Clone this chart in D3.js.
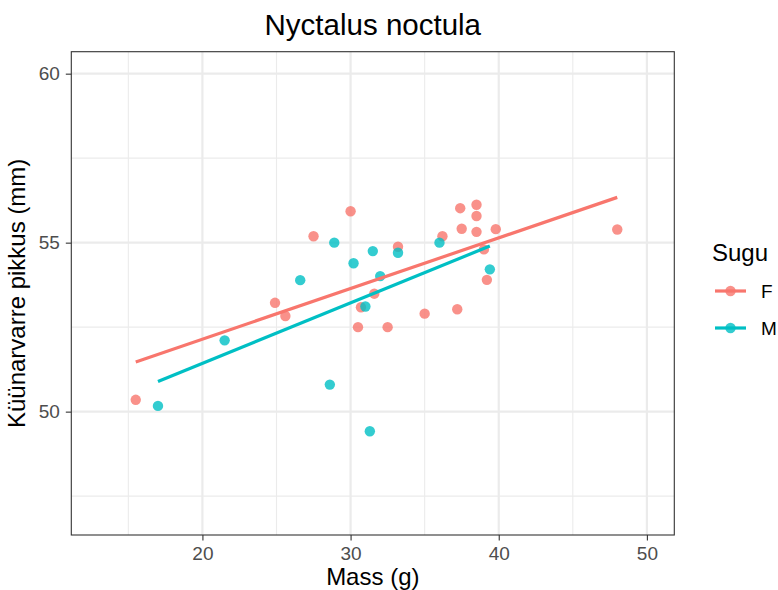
<!DOCTYPE html>
<html>
<head>
<meta charset="utf-8">
<script src="https://cdn.jsdelivr.net/npm/d3@7"></script>
<style>
  html, body { margin: 0; padding: 0; background: #fff; }
  text { font-family: "Liberation Sans", Arial, sans-serif; }
</style>
</head>
<body>
<svg id="chart" width="778" height="590"></svg>
<script>
// ---- data ----
const groups = ["F", "M"];
const colors = ["#F8766D", "#00BFC4"];

const massF = [15.5, 24.9, 25.6, 27.5, 30.0, 30.5, 30.7, 31.6, 32.5, 33.2, 35.0, 36.2, 37.2, 37.4, 37.5, 38.5, 38.5, 38.5, 39.0, 39.2, 39.8, 48.0];
const armF  = [50.35, 53.22, 52.83, 55.19, 55.93, 52.50, 53.09, 53.49, 52.50, 54.88, 52.90, 55.19, 53.03, 56.02, 55.41, 56.12, 55.79, 55.32, 54.80, 53.90, 55.40, 55.39];

const massM = [17.0, 21.5, 26.6, 28.6, 28.9, 30.2, 31.0, 31.3, 31.5, 32.0, 33.2, 36.0, 39.4];
const armM  = [50.17, 52.11, 53.89, 50.80, 55.00, 54.39, 53.11, 49.42, 54.75, 54.01, 54.70, 55.00, 54.21];

// fitted (lm) line ends
const fitMassF = [15.5, 48.0];
const fitArmF  = [51.47, 56.34];
const fitMassM = [17.0, 39.4];
const fitArmM  = [50.89, 54.90];

const xTicks = [20, 30, 40, 50];
const xMinor = [15, 25, 35, 45];
const yTicks = [50, 55, 60];
const yMinor = [47.5, 52.5, 57.5];

const titleText = "Nyctalus noctula";
const xTitle = "Mass (g)";
const yTitle = "Küünarvarre pikkus (mm)";
const legendTitle = "Sugu";

// ---- layout ----
const P = { left: 71.3, right: 674.3, top: 51.7, bottom: 535 };
const svg = d3.select("#chart");

const x = d3.scaleLinear().domain([11.15, 51.85]).range([P.left, P.right]);
const y = d3.scaleLinear().domain([46.35, 60.65]).range([P.bottom, P.top]);

// panel background
svg.append("rect").attr("x", P.left).attr("y", P.top)
  .attr("width", P.right - P.left).attr("height", P.bottom - P.top)
  .attr("fill", "#fff");

const grid = svg.append("g");
// minor gridlines
grid.selectAll(".xmin").data(xMinor).join("line")
  .attr("class", "xmin")
  .attr("x1", d => x(d)).attr("x2", d => x(d))
  .attr("y1", P.top).attr("y2", P.bottom)
  .attr("stroke", "#EBEBEB").attr("stroke-width", 1.1);
grid.selectAll(".ymin").data(yMinor).join("line")
  .attr("class", "ymin")
  .attr("y1", d => y(d)).attr("y2", d => y(d))
  .attr("x1", P.left).attr("x2", P.right)
  .attr("stroke", "#EBEBEB").attr("stroke-width", 1.1);
// major gridlines
grid.selectAll(".xmaj").data(xTicks).join("line")
  .attr("class", "xmaj")
  .attr("x1", d => x(d)).attr("x2", d => x(d))
  .attr("y1", P.top).attr("y2", P.bottom)
  .attr("stroke", "#EBEBEB").attr("stroke-width", 2.2);
grid.selectAll(".ymaj").data(yTicks).join("line")
  .attr("class", "ymaj")
  .attr("y1", d => y(d)).attr("y2", d => y(d))
  .attr("x1", P.left).attr("x2", P.right)
  .attr("stroke", "#EBEBEB").attr("stroke-width", 2.2);

// points
const ptsF = massF.map((m, i) => ({ x: m, y: armF[i], g: 0 }));
const ptsM = massM.map((m, i) => ({ x: m, y: armM[i], g: 1 }));
svg.append("g").selectAll("circle").data(ptsF.concat(ptsM)).join("circle")
  .attr("cx", d => x(d.x)).attr("cy", d => y(d.y)).attr("r", 5.2)
  .attr("fill", d => colors[d.g]).attr("fill-opacity", 0.8);

// fitted lines
const line = d3.line().x(d => x(d[0])).y(d => y(d[1]));
const fits = [
  fitMassF.map((m, i) => [m, fitArmF[i]]),
  fitMassM.map((m, i) => [m, fitArmM[i]])
];
svg.append("g").selectAll("path").data(fits).join("path")
  .attr("d", line).attr("fill", "none")
  .attr("stroke", (d, i) => colors[i]).attr("stroke-width", 3.2);

// panel border
svg.append("rect").attr("x", P.left).attr("y", P.top)
  .attr("width", P.right - P.left).attr("height", P.bottom - P.top)
  .attr("fill", "none").attr("stroke", "#333333").attr("stroke-width", 1.1);

// axes
const xAxis = d3.axisBottom(x).tickValues(xTicks).tickSize(5.5).tickPadding(6).tickFormat(d3.format("d"));
const gx = svg.append("g").attr("transform", `translate(0,${P.bottom})`).call(xAxis);
gx.select(".domain").remove();
gx.selectAll(".tick line").attr("stroke", "#333333").attr("stroke-width", 1.1);
gx.selectAll(".tick text").attr("fill", "#4D4D4D").style("font-size", "19px")
  .style("font-family", "'Liberation Sans', Arial, sans-serif");

const yAxis = d3.axisLeft(y).tickValues(yTicks).tickSize(5.5).tickPadding(6).tickFormat(d3.format("d"));
const gy = svg.append("g").attr("transform", `translate(${P.left},0)`).call(yAxis);
gy.select(".domain").remove();
gy.selectAll(".tick line").attr("stroke", "#333333").attr("stroke-width", 1.1);
gy.selectAll(".tick text").attr("fill", "#4D4D4D").style("font-size", "19px")
  .style("font-family", "'Liberation Sans', Arial, sans-serif");

// titles
const cx = (P.left + P.right) / 2;
svg.append("text").attr("x", cx).attr("y", 35).attr("text-anchor", "middle")
  .style("font-size", "29.5px").attr("fill", "#000").text(titleText);
svg.append("text").attr("x", cx).attr("y", 585).attr("text-anchor", "middle")
  .style("font-size", "24px").attr("fill", "#000").text(xTitle);
svg.append("text").attr("transform", `translate(25,${(P.top + P.bottom) / 2}) rotate(-90)`)
  .attr("text-anchor", "middle").style("font-size", "24px").attr("fill", "#000").text(yTitle);

// legend
const lg = svg.append("g");
lg.append("text").attr("x", 712).attr("y", 261).style("font-size", "24px").attr("fill", "#000").text(legendTitle);
const rowY = [291, 328];
groups.forEach((g, i) => {
  lg.append("line").attr("x1", 715).attr("x2", 746).attr("y1", rowY[i]).attr("y2", rowY[i])
    .attr("stroke", colors[i]).attr("stroke-width", 3.2);
  lg.append("circle").attr("cx", 730.5).attr("cy", rowY[i]).attr("r", 5.2)
    .attr("fill", colors[i]).attr("fill-opacity", 0.8);
  lg.append("text").attr("x", 761).attr("y", rowY[i]).attr("dy", "0.35em")
    .style("font-size", "19px").attr("fill", "#000").text(g);
});
</script>
</body>
</html>
